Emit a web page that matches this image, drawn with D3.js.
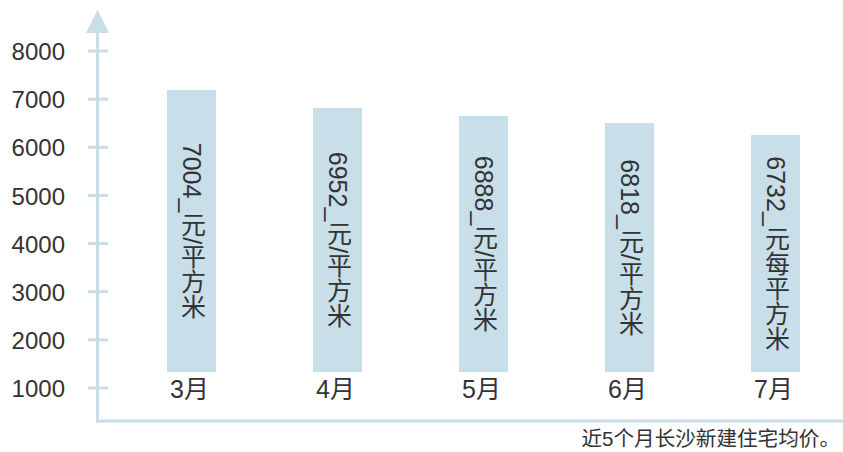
<!DOCTYPE html>
<html><head><meta charset="utf-8">
<script src="https://cdn.jsdelivr.net/npm/d3@7"></script>
<style>
html,body{margin:0;padding:0;background:#fff;}
svg{display:block;font-family:"Liberation Sans",Arial,"Noto Sans CJK SC",sans-serif;}
</style></head>
<body>
<svg id="chart" width="843" height="452"></svg>
<script>
// data
const months = ["3月","4月","5月","6月","7月"];
const prices = [7004, 6952, 6888, 6818, 6732];
const priceUnits = ["_元/平方米","_元/平方米","_元/平方米","_元/平方米","_元每平方米"];
const barTops = [7190, 6816, 6650, 6504, 6255]; // bar heights as drawn, in axis units
const barBase = 1330;
const yTicks = [1000,2000,3000,4000,5000,6000,7000,8000];
const caption = "近5个月长沙新建住宅均价。";

const svg = d3.select("#chart");
const axisColor = "#c8dee8";
const barColor = "#c8dee8";
const textColor = "#333333";

const y = d3.scaleLinear().domain([1000, 8000]).range([388, 51]);
const x = d3.scalePoint().domain(months).range([191.5, 775.5]);
const barW = 49;

// bars
svg.append("g").selectAll("rect").data(months).join("rect")
  .attr("x", d => x(d) - barW/2)
  .attr("y", (d,i) => y(barTops[i]))
  .attr("width", barW)
  .attr("height", (d,i) => y(barBase) - y(barTops[i]))
  .attr("fill", barColor);

// vertical labels
svg.append("g").selectAll("text").data(months).join("text")
  .attr("x", d => x(d))
  .attr("y", (d,i) => (y(barTops[i]) + y(barBase)) / 2)
  .attr("text-anchor", "middle")
  .style("writing-mode", "vertical-rl")
  .style("text-orientation", "mixed")
  .attr("font-size", 25)
  .attr("fill", textColor)
  .text((d,i) => prices[i] + priceUnits[i]);

// month labels
svg.append("g").selectAll("text").data(months).join("text")
  .attr("x", d => x(d) - 2)
  .attr("y", 398)
  .attr("text-anchor", "middle")
  .attr("font-size", 25)
  .attr("fill", textColor)
  .text(d => d);

// y axis
const axisX = 97.5;
svg.append("line").attr("x1", axisX).attr("x2", axisX).attr("y1", 30).attr("y2", 422.5)
  .attr("stroke", axisColor).attr("stroke-width", 3);
svg.append("path").attr("d", `M${axisX},10 L${axisX-11.5},33 L${axisX+11.5},33 Z`).attr("fill", axisColor);
svg.append("line").attr("x1", 96).attr("x2", 843).attr("y1", 421).attr("y2", 421)
  .attr("stroke", axisColor).attr("stroke-width", 3);

const yAxis = d3.axisLeft(y).tickValues(yTicks).tickSize(0).tickPadding(0).tickFormat(d3.format("d"));
const gy = svg.append("g").attr("transform", "translate(65,0)").call(yAxis);
gy.select(".domain").remove();
gy.selectAll("text").attr("font-size", 24).attr("fill", textColor)
  .attr("font-family", '"Liberation Sans",Arial,sans-serif').attr("dy", "0.36em").attr("x", 0);

svg.append("g").selectAll("line").data(yTicks).join("line")
  .attr("x1", 88).attr("x2", 108)
  .attr("y1", d => y(d)).attr("y2", d => y(d))
  .attr("stroke", axisColor).attr("stroke-width", 3);

// caption
svg.append("text").attr("x", 840).attr("y", 446).attr("font-size", 20.6)
  .attr("text-anchor", "end")
  .attr("fill", textColor).text(caption);
</script>
</body></html>
